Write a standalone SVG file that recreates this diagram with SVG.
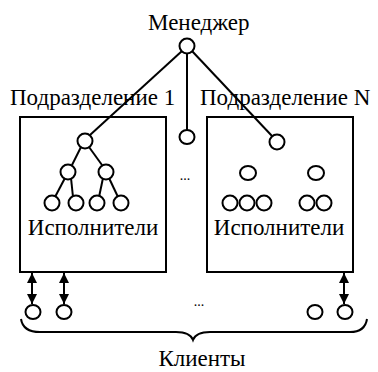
<svg xmlns="http://www.w3.org/2000/svg" width="378" height="372" viewBox="0 0 378 372">
  <defs>
    <style>
      text { font-family: "Liberation Serif", "Tinos", "DejaVu Serif", "Times New Roman", serif; fill: #000; }
      .lbl { font-size: 23px; }
      .dots { font-size: 14px; }
      .box { fill: none; stroke: #000; stroke-width: 2; }
      .nd { fill: #fff; stroke: #000; stroke-width: 2; }
      .ln { fill: none; stroke: #000; stroke-width: 2; }
      .arr { fill: none; stroke: #000; stroke-width: 2; marker-start: url(#head); marker-end: url(#head); }
    </style>
    <marker id="head" viewBox="0 0 10 10" refX="10" refY="5" markerWidth="10" markerHeight="10" orient="auto-start-reverse" markerUnits="userSpaceOnUse">
      <path d="M0,0 L10,5 L0,10 Z" fill="#000"/>
    </marker>
  </defs>
  <rect width="378" height="372" fill="#fff"/>

  <!-- connectors -->
  <g id="connectors">
    <line class="ln" x1="182" y1="51" x2="90" y2="135"/>
    <line class="ln" x1="187" y1="53" x2="187" y2="130"/>
    <line class="ln" x1="192" y1="51" x2="272" y2="136"/>
    <line class="ln" x1="81" y1="147" x2="72" y2="165"/>
    <line class="ln" x1="89" y1="147" x2="102" y2="165"/>
    <line class="ln" x1="65" y1="178" x2="55" y2="197"/>
    <line class="ln" x1="71" y1="178" x2="73" y2="197"/>
    <line class="ln" x1="103" y1="178" x2="99" y2="197"/>
    <line class="ln" x1="109" y1="178" x2="118" y2="197"/>
    <line class="arr" x1="32" y1="273" x2="32" y2="304"/>
    <line class="arr" x1="64" y1="273" x2="64" y2="304"/>
    <line class="arr" x1="344" y1="273" x2="344" y2="304"/>
  </g>

  <!-- manager -->
  <g id="manager">
    <text class="lbl" x="148" y="30">Менеджер</text>
    <circle class="nd" cx="187" cy="46" r="7.5"/>
  </g>

  <!-- unit 1 -->
  <g id="unit1">
    <text class="lbl" x="10" y="105">Подразделение 1</text>
    <rect class="box" x="20" y="117" width="146" height="155"/>
    <circle class="nd" cx="85" cy="141" r="7.5"/>
    <circle class="nd" cx="68" cy="172" r="7.5"/>
    <circle class="nd" cx="106" cy="172" r="7.5"/>
    <circle class="nd" cx="52" cy="203" r="7.5"/>
    <circle class="nd" cx="76" cy="203" r="7.5"/>
    <circle class="nd" cx="97" cy="203" r="7.5"/>
    <circle class="nd" cx="121" cy="203" r="7.5"/>
    <text class="lbl" x="93" y="235" text-anchor="middle">Исполнители</text>
  </g>

  <!-- middle unit -->
  <g id="unitMid">
    <ellipse class="nd" cx="187" cy="137" rx="7.5" ry="7"/>
    <text class="dots" x="185" y="180" text-anchor="middle">...</text>
  </g>

  <!-- unit N -->
  <g id="unitN">
    <text class="lbl" x="200" y="105">Подразделение N</text>
    <rect class="box" x="207" y="117" width="146" height="155"/>
    <circle class="nd" cx="277" cy="142" r="7.5"/>
    <ellipse class="nd" cx="248" cy="173" rx="8" ry="7"/>
    <ellipse class="nd" cx="316" cy="173" rx="8" ry="7"/>
    <circle class="nd" cx="230" cy="203" r="7.5"/>
    <circle class="nd" cx="247" cy="203" r="7.5"/>
    <circle class="nd" cx="264" cy="203" r="7.5"/>
    <circle class="nd" cx="307" cy="203" r="7.5"/>
    <circle class="nd" cx="324" cy="203" r="7.5"/>
    <text class="lbl" x="279" y="235" text-anchor="middle">Исполнители</text>
  </g>

  <!-- clients -->
  <g id="clients">
    <ellipse class="nd" cx="33" cy="312" rx="7.5" ry="7"/>
    <ellipse class="nd" cx="64" cy="312" rx="7.5" ry="7"/>
    <ellipse class="nd" cx="315" cy="312" rx="7.5" ry="7"/>
    <ellipse class="nd" cx="345" cy="312" rx="7.5" ry="7"/>
    <text class="dots" x="199" y="306" text-anchor="middle">...</text>
    <path class="ln" d="M21,319 Q23,332 40,332 L176,332 Q190,332 193,340 Q196,332 210,332 L350,332 Q365,332 367,319"/>
    <text class="lbl" x="202" y="366" text-anchor="middle">Клиенты</text>
  </g>
</svg>
